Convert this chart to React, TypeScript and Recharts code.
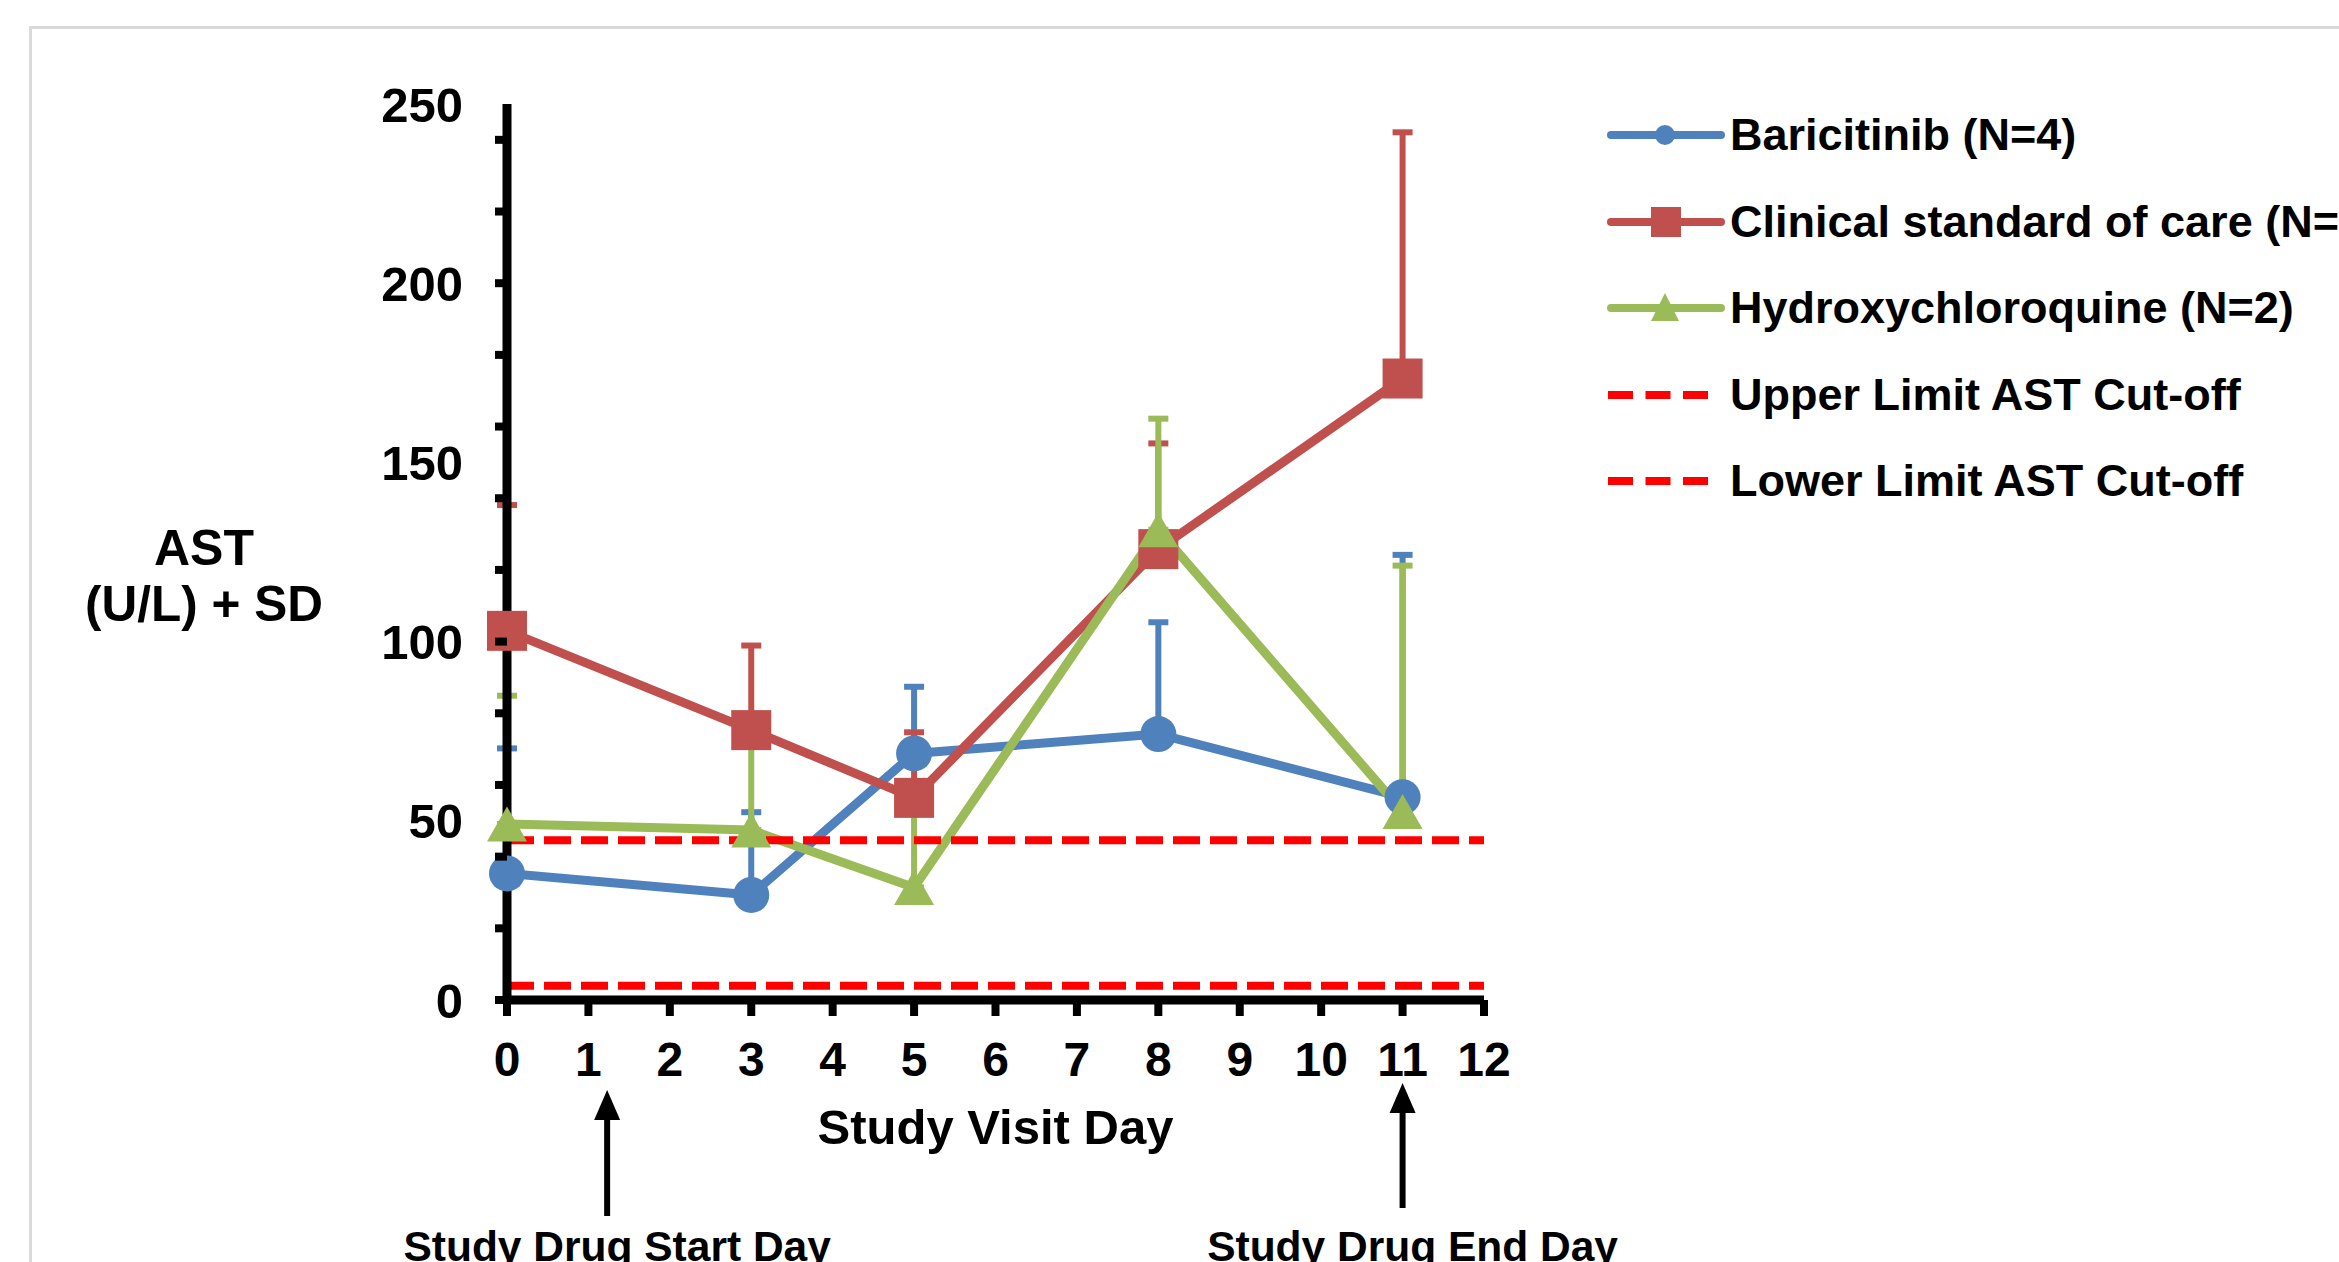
import React from 'react';
import { ComposedChart, Line, XAxis, YAxis, ErrorBar, ReferenceLine, Legend } from 'recharts';

const FONT = '"Liberation Sans", Arial, sans-serif';
const BLUE = '#4f81bd';
const RED = '#c0504d';
const GREEN = '#9bbb59';
const CUTOFF = '#ff0000';

// ---- data ----
const visitDays = [0, 3, 5, 8, 11];
const baricitinibMean = [35.3, 29.3, 68.8, 74.2, 56.6];
const baricitinibSD = [34.9, 23.1, 18.6, 31.2, 67.6];
const socMean = [103.0, 75.3, 56.4, 125.8, 173.4];
const socSD = [35.1, 23.6, 18.3, 29.5, 68.7];
const hcqMean = [49.1, 47.4, 31.4, 131.2, 52.6];
const hcqSD = [35.8, 24.6, 20.6, 31.0, 68.6];
const upperCutoff = 44.6;
const lowerCutoff = 4;

const xTicks = [0, 1, 2, 3, 4, 5, 6, 7, 8, 9, 10, 11, 12];
const yLabelTicks = [0, 50, 100, 150, 200, 250];
const yMinorTicks = [0, 20, 40, 60, 80, 100, 120, 140, 160, 180, 200, 220, 240];
const yAllTicks = Array.from(new Set([...yMinorTicks, ...yLabelTicks])).sort((a, b) => a - b);

const seriesLabels = [
  'Baricitinib (N=4)',
  'Clinical standard of care (N=3)',
  'Hydroxychloroquine (N=2)',
  'Upper Limit AST Cut-off',
  'Lower Limit AST Cut-off',
];
const axisTitleY = ['AST', '(U/L) + SD'];
const axisTitleX = 'Study Visit Day';
const annotationDays = [1.23, 11];
const annotationLabels = ['Study Drug Start Day', 'Study Drug End Day'];

const data = visitDays.map((d, i) => ({
  day: d,
  bari: baricitinibMean[i],
  bariErr: [0, baricitinibSD[i]],
  soc: socMean[i],
  socErr: [0, socSD[i]],
  hcq: hcqMean[i],
  hcqErr: [0, hcqSD[i]],
}));

// ---- layout ----
const W = 2339;
const H = 1262;
const MARGIN = { top: 104, right: 855, bottom: 202, left: 407 };
const Y_AXIS_W = 100;
const X_AXIS_H = 60;
const PLOT_LEFT = MARGIN.left + Y_AXIS_W;
const PLOT_W = W - MARGIN.right - PLOT_LEFT;
const X_MAX = 12;

const circleDot = (color: string, r: number) => (props: any) => {
  const { cx, cy, index } = props;
  if (cx == null || cy == null) return <g key={`c${index}`} />;
  return <circle key={`c${index}`} cx={cx} cy={cy} r={r} fill={color} />;
};
const squareDot = (color: string, s: number) => (props: any) => {
  const { cx, cy, index } = props;
  if (cx == null || cy == null) return <g key={`s${index}`} />;
  return <rect key={`s${index}`} x={cx - s / 2} y={cy - s / 2} width={s} height={s} fill={color} />;
};
const triDot = (color: string, w: number, h: number) => (props: any) => {
  const { cx, cy, index } = props;
  if (cx == null || cy == null) return <g key={`t${index}`} />;
  return (
    <polygon
      key={`t${index}`}
      points={`${cx},${cy - h / 2} ${cx + w / 2},${cy + h / 2} ${cx - w / 2},${cy + h / 2}`}
      fill={color}
    />
  );
};

const YTick = (props: any) => {
  const { x, y, payload } = props;
  const v = payload.value;
  return (
    <g>
      {v % 20 === 0 && <line x1={x - 12} x2={x} y1={y} y2={y} stroke="#000" strokeWidth={8} />}
      {v % 50 === 0 && (
        <text
          x={x - 44}
          y={y}
          dy="0.36em"
          textAnchor="end"
          fill="#000"
          fontFamily={FONT}
          fontWeight={700}
          fontSize={49}
        >
          {v}
        </text>
      )}
    </g>
  );
};

const legendKinds = ['circle', 'square', 'triangle', 'dash', 'dash'];
const legendColors = [BLUE, RED, GREEN, CUTOFF, CUTOFF];

const LegendIcon = ({ kind, color }: { kind: string; color: string }) => {
  const cy = 20;
  if (kind === 'dash') {
    return (
      <svg width={123} height={40} style={{ flex: 'none' }}>
        <line x1={1} x2={101} y1={cy} y2={cy} stroke={color} strokeWidth={8} strokeDasharray="25 12.5" />
      </svg>
    );
  }
  return (
    <svg width={123} height={40} style={{ flex: 'none' }}>
      <line x1={4} x2={114} y1={cy} y2={cy} stroke={color} strokeWidth={8} strokeLinecap="round" />
      {kind === 'circle' && <circle cx={58} cy={cy} r={10} fill={color} />}
      {kind === 'square' && <rect x={44} y={cy - 15} width={30} height={30} fill={color} />}
      {kind === 'triangle' && (
        <polygon points={`58,${cy - 15} 72,${cy + 13} 44,${cy + 13}`} fill={color} />
      )}
    </svg>
  );
};

const renderLegend = () => (
  <div style={{ fontFamily: FONT, fontWeight: 700, fontSize: 45, color: '#000' }}>
    {seriesLabels.map((label, i) => (
      <div
        key={label}
        style={{ display: 'flex', alignItems: 'center', height: 86.5, whiteSpace: 'nowrap' }}
      >
        <LegendIcon kind={legendKinds[i]} color={legendColors[i]} />
        <span>{label}</span>
      </div>
    ))}
  </div>
);

const textStyle = { fontFamily: FONT, fontWeight: 700, fill: '#000' } as const;

export default function App() {
  const dayToX = (d: number) => PLOT_LEFT + (d / X_MAX) * PLOT_W;
  return (
    <div
      style={{
        position: 'absolute',
        left: 0,
        top: 0,
        width: W,
        height: H,
        overflow: 'hidden',
        background: '#fff',
      }}
    >
      <div
        style={{
          position: 'absolute',
          left: 29,
          top: 26,
          width: W,
          height: H,
          border: '3px solid #d9d9d9',
        }}
      />
      <ComposedChart width={W} height={H} data={data} margin={MARGIN}>
        <XAxis
          type="number"
          dataKey="day"
          domain={[0, X_MAX]}
          ticks={xTicks}
          interval={0}
          height={X_AXIS_H}
          axisLine={{ stroke: '#000', strokeWidth: 9 }}
          tickLine={{ stroke: '#000', strokeWidth: 8 }}
          tickSize={16}
          tickMargin={26}
          tick={{ ...textStyle, fontSize: 48 }}
          label={{
            content: (p: any) => {
              const vb = p.viewBox || { x: PLOT_LEFT, y: 1000, width: PLOT_W };
              return (
                <text
                  x={vb.x + vb.width / 2}
                  y={vb.y + 126}
                  dy="0.36em"
                  textAnchor="middle"
                  fontSize={49}
                  {...textStyle}
                >
                  {axisTitleX}
                </text>
              );
            },
          }}
        />
        <YAxis
          type="number"
          domain={[0, 250]}
          ticks={yAllTicks}
          interval={0}
          width={Y_AXIS_W}
          axisLine={{ stroke: '#000', strokeWidth: 9 }}
          tickLine={false}
          tickSize={0}
          tickMargin={0}
          tick={<YTick />}
          label={{
            content: (p: any) => {
              const vb = p.viewBox || { x: MARGIN.left, y: MARGIN.top };
              return (
                <g>
                  <text x={vb.x - 203} y={vb.y + 443} dy="0.36em" textAnchor="middle" fontSize={50} {...textStyle}>
                    {axisTitleY[0]}
                  </text>
                  <text x={vb.x - 203} y={vb.y + 499} dy="0.36em" textAnchor="middle" fontSize={49.5} {...textStyle}>
                    {axisTitleY[1]}
                  </text>
                </g>
              );
            },
          }}
        />

        <Line
          type="linear"
          dataKey="bari"
          stroke={BLUE}
          strokeWidth={9}
          strokeLinejoin="round"
          dot={false}
          activeDot={false}
          isAnimationActive={false}
        >
          <ErrorBar dataKey="bariErr" direction="y" width={10} strokeWidth={6} stroke={BLUE} />
        </Line>
        <Line
          type="linear"
          dataKey="soc"
          stroke={RED}
          strokeWidth={9}
          strokeLinejoin="round"
          dot={false}
          activeDot={false}
          isAnimationActive={false}
        >
          <ErrorBar dataKey="socErr" direction="y" width={10} strokeWidth={6} stroke={RED} />
        </Line>
        <Line
          type="linear"
          dataKey="hcq"
          stroke={GREEN}
          strokeWidth={9}
          strokeLinejoin="round"
          dot={false}
          activeDot={false}
          isAnimationActive={false}
        >
          <ErrorBar dataKey="hcqErr" direction="y" width={10} strokeWidth={6} stroke={GREEN} />
        </Line>

        <ReferenceLine y={upperCutoff} stroke={CUTOFF} strokeWidth={8} strokeDasharray="27 10" ifOverflow="visible" />
        <ReferenceLine y={lowerCutoff} stroke={CUTOFF} strokeWidth={8} strokeDasharray="27 10" ifOverflow="visible" />

        <Line dataKey="bari" stroke="none" dot={circleDot(BLUE, 18)} activeDot={false} legendType="none" isAnimationActive={false} />
        <Line dataKey="soc" stroke="none" dot={squareDot(RED, 40)} activeDot={false} legendType="none" isAnimationActive={false} />
        <Line dataKey="hcq" stroke="none" dot={triDot(GREEN, 40, 35)} activeDot={false} legendType="none" isAnimationActive={false} />

        <Legend
          layout="vertical"
          align="center"
          verticalAlign="middle"
          content={renderLegend}
          wrapperStyle={{ left: 1607, top: 92, width: 'auto' }}
        />
      </ComposedChart>

      <svg
        width={W}
        height={H}
        style={{ position: 'absolute', left: 0, top: 0, pointerEvents: 'none' }}
      >
        {annotationDays.map((d, i) => {
          const x = dayToX(d);
          const tip = i === 0 ? 1090 : 1083;
          const end = i === 0 ? 1216 : 1208;
          return (
            <g key={annotationLabels[i]}>
              <line x1={x} x2={x} y1={tip + 20} y2={end} stroke="#000" strokeWidth={6} />
              <polygon points={`${x},${tip} ${x + 13},${tip + 30} ${x - 13},${tip + 30}`} fill="#000" />
              <text x={x + 10} y={1261} textAnchor="middle" fontSize={42.5} {...textStyle}>
                {annotationLabels[i]}
              </text>
            </g>
          );
        })}
      </svg>
    </div>
  );
}
